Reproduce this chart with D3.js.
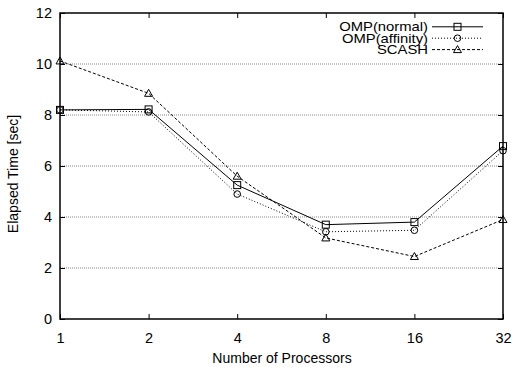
<!DOCTYPE html>
<html><head><meta charset="utf-8">
<script src="https://cdn.jsdelivr.net/npm/d3@7"></script>
<style>body{margin:0;background:#fff}svg{display:block}text{font-family:"Liberation Sans",Arial,sans-serif;fill:#000}</style>
</head><body>
<svg id="c" width="512" height="367"></svg>
<script>
const processors = [1, 2, 4, 8, 16, 32];
const yTicks = [0, 2, 4, 6, 8, 10, 12];
const seriesNames = ["OMP(normal)", "OMP(affinity)", "SCASH"];
const ompNormal = [8.2, 8.22, 5.25, 3.7, 3.8, 6.78];
const ompAffinity = [8.2, 8.12, 4.9, 3.42, 3.48, 6.6];
const scash = [10.12, 8.85, 5.6, 3.18, 2.45, 3.9];

const svg = d3.select("#c");
const L = 60, R = 503, T = 13, B = 319;
const x = d3.scaleLog().base(2).domain([1, 32]).range([L, R]);
const y = d3.scaleLinear().domain([0, 12]).range([B, T]);

// grid
svg.append("g").selectAll("line").data(yTicks.filter(d => d > 0 && d < 12)).join("line")
  .attr("x1", L).attr("x2", R).attr("y1", d => y(d)).attr("y2", d => y(d))
  .attr("stroke", "#888").attr("stroke-width", 1).attr("stroke-dasharray", "1,1");

// axes
const ax = d3.axisBottom(x).tickValues(processors).tickFormat(d3.format("d")).tickSize(-5).tickPadding(10);
const gx = svg.append("g").attr("transform", `translate(0,${B})`).call(ax);
const axT = d3.axisTop(x).tickValues(processors).tickFormat("").tickSize(-5);
svg.append("g").attr("transform", `translate(0,${T})`).call(axT);
const ay = d3.axisLeft(y).tickValues(yTicks).tickSize(-5).tickPadding(8);
const gy = svg.append("g").attr("transform", `translate(${L},0)`).call(ay);
const ayR = d3.axisRight(y).tickValues(yTicks).tickFormat("").tickSize(-5);
svg.append("g").attr("transform", `translate(${R},0)`).call(ayR);
svg.selectAll(".domain").remove();
svg.selectAll(".tick line").attr("stroke", "#000").attr("stroke-width", 1);
svg.selectAll(".tick text").attr("font-size", 14.5).attr("font-family", '"Liberation Sans",Arial,sans-serif').attr("fill", "#000");
gx.selectAll(".tick text").attr("dy", "0.95em");

// border
svg.append("rect").attr("x", L).attr("y", T).attr("width", R - L).attr("height", B - T)
  .attr("fill", "none").attr("stroke", "#000").attr("stroke-width", 1.5);

// titles
svg.append("text").attr("x", (L + R) / 2 + 0.5).attr("y", 363).attr("text-anchor", "middle").attr("font-size", 14).text("Number of Processors");
svg.append("text").attr("transform", "translate(18,174) rotate(-90)").attr("text-anchor", "middle").attr("font-size", 14).text("Elapsed Time [sec]");

const series = [
  {name: seriesNames[0], vals: ompNormal, dash: null, marker: "square"},
  {name: seriesNames[1], vals: ompAffinity, dash: "1,2", marker: "circle"},
  {name: seriesNames[2], vals: scash, dash: "3,2", marker: "triangle"}
];
function drawMarker(g, type, cx, cy) {
  if (type === "square") g.append("rect").attr("x", cx - 3.5).attr("y", cy - 3.5).attr("width", 7).attr("height", 7).attr("fill", "none").attr("stroke", "#000").attr("stroke-width", 1);
  else if (type === "circle") g.append("circle").attr("cx", cx).attr("cy", cy).attr("r", 3.3).attr("fill", "none").attr("stroke", "#000").attr("stroke-width", 1);
  else g.append("path").attr("d", `M${cx},${cy - 4}L${cx + 4},${cy + 3}L${cx - 4},${cy + 3}Z`).attr("fill", "none").attr("stroke", "#000").attr("stroke-width", 1);
}
const line = d3.line().x((d, i) => x(processors[i])).y(d => y(d));
series.forEach((s, si) => {
  const g = svg.append("g");
  g.append("path").attr("d", line(s.vals)).attr("fill", "none").attr("stroke", "#000").attr("stroke-width", 1)
    .attr("stroke-dasharray", s.dash);
  s.vals.forEach((v, i) => drawMarker(g, s.marker, x(processors[i]), y(v)));
  // legend
  const ly = 26.8 + si * 11.4;
  svg.append("text").attr("transform", `translate(428,${ly + 4.6}) scale(1.14,1)`).attr("text-anchor", "end").attr("font-size", 13).text(s.name);
  svg.append("line").attr("x1", 432).attr("x2", 483).attr("y1", ly).attr("y2", ly).attr("stroke", "#000").attr("stroke-width", 1).attr("stroke-dasharray", s.dash);
  drawMarker(svg, s.marker, 457.5, ly);
});
</script>
</body></html>
